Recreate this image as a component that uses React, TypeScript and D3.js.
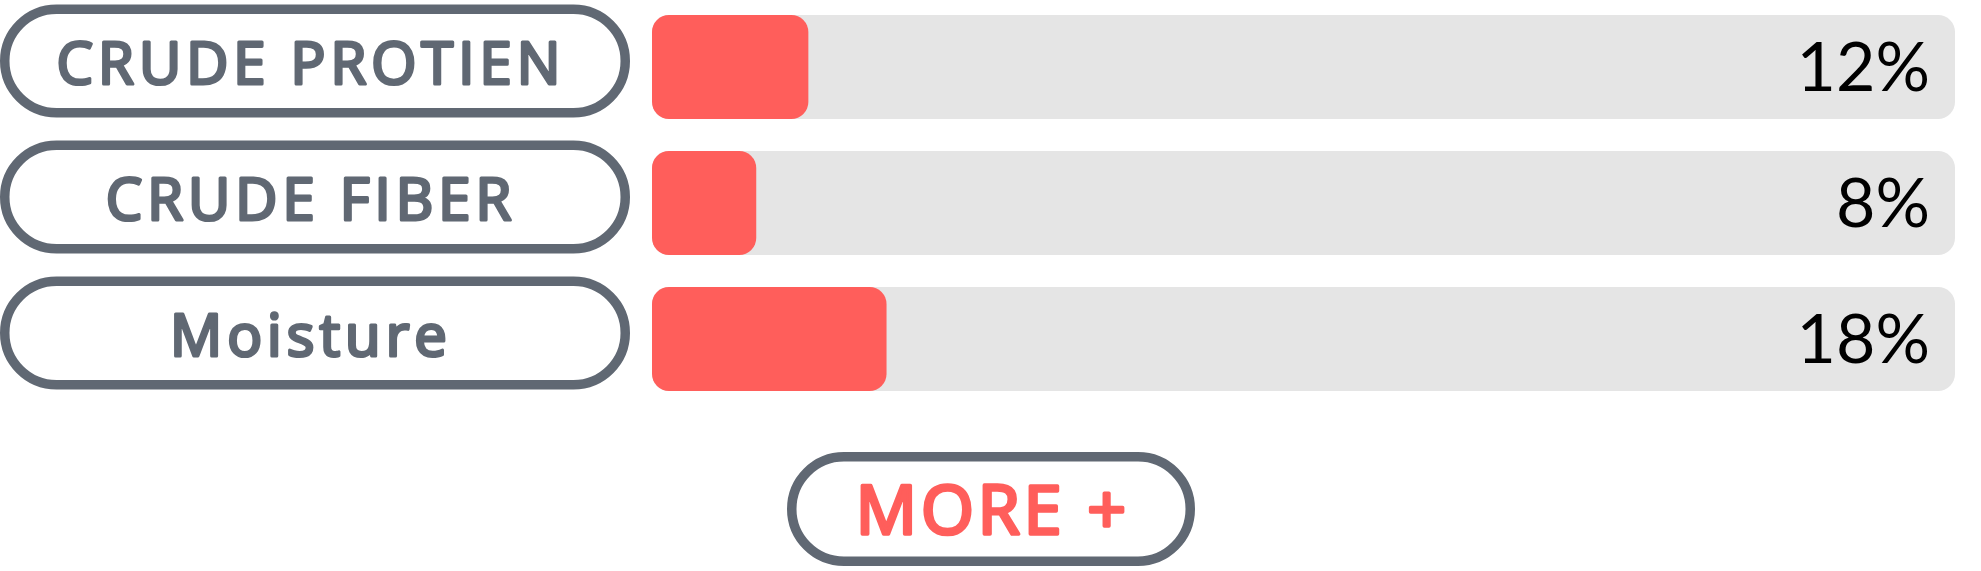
import { useMemo } from "react";
import * as d3 from "d3";

const categories = ["CRUDE PROTIEN", "CRUDE FIBER", "Moisture"];
const values = [12, 8, 18];
const moreLabel = "MORE +";

const WIDTH = 1981;
const HEIGHT = 571;

const GRAY = "#606873";
const RED = "#FF5E5B";
const TRACK = "#E5E5E5";

const PILL_W = 630;
const STROKE = 9.5;
const BAR_LEFT = 652;
const BAR_RIGHT = 1955;

export default function App() {
    const x = useMemo(
        () => d3.scaleLinear().domain([0, 100]).range([BAR_LEFT, BAR_RIGHT]),
        []
    );

    const y = useMemo(
        () =>
            d3
                .scaleBand<string>()
                .domain(categories)
                .range([15, 391])
                .paddingInner(32 / 136)
                .paddingOuter(0),
        []
    );

    const bw = y.bandwidth();
    const pillH = 113 - STROKE;

    return (
        <svg
            width={WIDTH}
            height={HEIGHT}
            style={{ position: "absolute", left: 0, top: 0, display: "block" }}
        >
            {categories.map((c, i) => {
                const top = y(c)!;
                const cy = top + bw / 2 - 6;
                return (
                    <g key={c}>
                        {/* label pill */}
                        <rect
                            x={STROKE / 2}
                            y={cy - pillH / 2}
                            width={PILL_W - STROKE}
                            height={pillH}
                            rx={pillH / 2}
                            fill="#fff"
                            stroke={GRAY}
                            strokeWidth={STROKE}
                        />
                        {/* regular weight + stroke ~ semibold */}
                        <text
                            x={PILL_W / 2 - 4}
                            y={cy + 23}
                            textAnchor="middle"
                            fill={GRAY}
                            stroke={GRAY}
                            strokeWidth={3.2}
                            strokeLinejoin="round"
                            fontFamily="'Open Sans', sans-serif"
                            fontWeight={400}
                            fontSize={58}
                            letterSpacing={5}
                        >
                            {c}
                        </text>
                        {/* track + value */}
                        <rect
                            x={x(0)}
                            y={top}
                            width={x(100) - x(0)}
                            height={bw}
                            rx={17}
                            fill={TRACK}
                        />
                        <rect
                            x={x(0)}
                            y={top}
                            width={x(values[i]) - x(0)}
                            height={bw}
                            rx={17}
                            fill={RED}
                        />
                        <text
                            x={x(100) - 25}
                            y={top + bw / 2 + 24}
                            textAnchor="end"
                            fill="#000"
                            fontFamily="Lato, sans-serif"
                            fontWeight={400}
                            fontSize={68}
                        >
                            {values[i]}%
                        </text>
                    </g>
                );
            })}

            {/* more button */}
            <rect
                x={787 + STROKE / 2}
                y={452 + STROKE / 2}
                width={408 - STROKE}
                height={114 - STROKE}
                rx={(114 - STROKE) / 2}
                fill="#fff"
                stroke={GRAY}
                strokeWidth={STROKE}
            />
            <text
                x={993}
                y={509 + 25}
                textAnchor="middle"
                fill={RED}
                stroke={RED}
                strokeWidth={3.6}
                strokeLinejoin="round"
                fontFamily="'Open Sans', sans-serif"
                fontWeight={400}
                fontSize={68}
                letterSpacing={4}
            >
                {moreLabel}
            </text>
        </svg>
    );
}
